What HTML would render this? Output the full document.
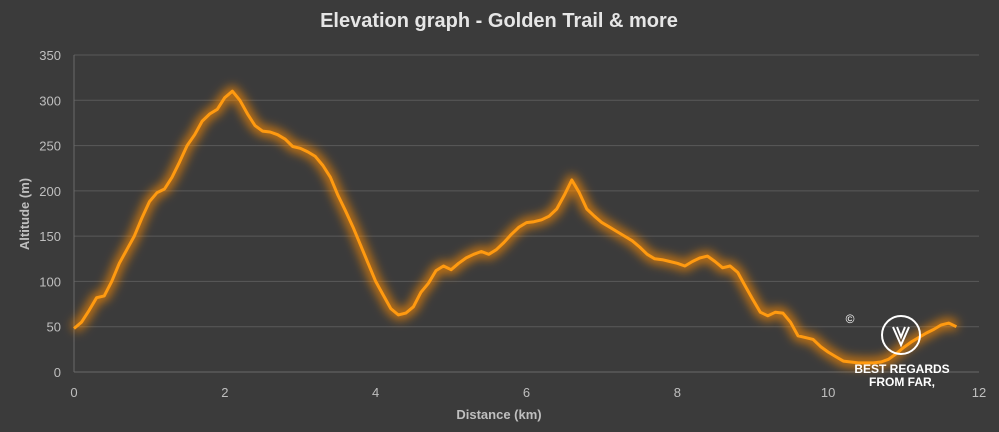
<!DOCTYPE html>
<html><head><meta charset="utf-8"><style>
html,body{margin:0;padding:0;background:#3b3b3b;}
svg{display:block;font-family:"Liberation Sans",sans-serif;}
</style></head><body>
<svg id="chart" width="999" height="432">
<defs>
<filter id="glow" x="-10%" y="-20%" width="120%" height="140%">
<feGaussianBlur stdDeviation="5" result="b"/>
</filter>
</defs>
<rect width="999" height="432" fill="#3b3b3b"/>
<text x="499" y="27" text-anchor="middle" font-size="20" font-weight="bold" fill="#e6e6e6">Elevation graph - Golden Trail &amp; more</text>
<g id="grid"></g>
<g id="yticks"></g>
<g id="xticks"></g>
<text x="499" y="419" text-anchor="middle" font-size="13" font-weight="bold" fill="#bfbfbf">Distance (km)</text>
<text transform="translate(29,214) rotate(-90)" text-anchor="middle" font-size="13" font-weight="bold" fill="#bfbfbf">Altitude (m)</text>
<path id="glowline" fill="none" stroke="#ff8c00" stroke-opacity="0.75" stroke-width="10" stroke-linejoin="round" filter="url(#glow)"/>
<path id="line" fill="none" stroke="#ff9a10" stroke-width="3" stroke-linejoin="round"/>
<g>
<text x="850" y="323" text-anchor="middle" font-size="12" fill="#fff">©</text>
<circle cx="901" cy="335" r="19" fill="none" stroke="#fff" stroke-width="2"/>
<path d="M893 327 L901 345 L909 327 M897 327 L901 337 L905 327" fill="none" stroke="#fff" stroke-width="2"/>
<text x="902" y="373" text-anchor="middle" font-size="12" font-weight="bold" fill="#fff">BEST REGARDS</text>
<text x="902" y="386" text-anchor="middle" font-size="12" font-weight="bold" fill="#fff">FROM FAR,</text>
</g>
</svg>
<script>
const distances=[0,0.1,0.2,0.3,0.4,0.5,0.6,0.7,0.8,0.9,1.0,1.1,1.2,1.3,1.4,1.5,1.6,1.7,1.8,1.9,2.0,2.1,2.2,2.3,2.4,2.5,2.6,2.7,2.8,2.9,3.0,3.1,3.2,3.3,3.4,3.5,3.6,3.7,3.8,3.9,4.0,4.1,4.2,4.3,4.4,4.5,4.6,4.7,4.8,4.9,5.0,5.1,5.2,5.3,5.4,5.5,5.6,5.7,5.8,5.9,6.0,6.1,6.2,6.3,6.4,6.5,6.6,6.7,6.8,6.9,7.0,7.1,7.2,7.3,7.4,7.5,7.6,7.7,7.8,7.9,8.0,8.1,8.2,8.3,8.4,8.5,8.6,8.7,8.8,8.9,9.0,9.1,9.2,9.3,9.4,9.5,9.6,9.7,9.8,9.9,10.0,10.1,10.2,10.3,10.4,10.5,10.6,10.7,10.8,10.9,11.0,11.1,11.2,11.3,11.4,11.5,11.6,11.7];
const altitudes=[48,55,68,82,84,100,120,135,150,170,188,198,202,215,232,250,262,277,285,290,303,310,300,285,272,266,265,262,257,249,247,243,238,228,215,195,178,160,140,120,100,85,70,63,65,72,88,98,112,117,113,120,126,130,133,130,135,143,152,160,165,166,168,172,180,195,212,198,180,172,165,160,155,150,145,138,130,125,124,122,120,117,122,126,128,122,115,117,110,95,80,66,62,66,65,55,40,38,36,28,22,17,12,11,10,10,10,11,14,20,27,33,38,43,47,52,54,50];
const yTickLabels=[0,50,100,150,200,250,300,350];
const xTickLabels=[0,2,4,6,8,10,12];
const X0=74,X1=979,Y0=372,Y1=55;
const xs=v=>X0+(v/12)*(X1-X0);
const ys=v=>Y0-(v/350)*(Y0-Y1);
const NS="http://www.w3.org/2000/svg";
const grid=document.getElementById('grid'),yt=document.getElementById('yticks'),xt=document.getElementById('xticks');
yTickLabels.forEach(v=>{
 const l=document.createElementNS(NS,'line');
 l.setAttribute('x1',X0);l.setAttribute('x2',X1);l.setAttribute('y1',ys(v));l.setAttribute('y2',ys(v));
 l.setAttribute('stroke',v===0?'#6a6a6a':'#5a5a5a');l.setAttribute('stroke-width','1');
 
 
 grid.appendChild(l);
 const t=document.createElementNS(NS,'text');
 t.setAttribute('x',61);t.setAttribute('y',ys(v)+5);t.setAttribute('text-anchor','end');
 t.setAttribute('font-size','13');t.setAttribute('fill','#bfbfbf');t.textContent=v;
 
 
 yt.appendChild(t);
});
const ax=document.createElementNS(NS,'line');
ax.setAttribute('x1',X0);ax.setAttribute('x2',X0);ax.setAttribute('y1',Y1);ax.setAttribute('y2',Y0);
ax.setAttribute('stroke','#6a6a6a');


grid.appendChild(ax);
xTickLabels.forEach(v=>{
 const t=document.createElementNS(NS,'text');
 t.setAttribute('x',xs(v));t.setAttribute('y',397);t.setAttribute('text-anchor','middle');
 t.setAttribute('font-size','13');t.setAttribute('fill','#bfbfbf');t.textContent=v;
 
 
 xt.appendChild(t);
});
const d=distances.map((v,i)=>(i?'L':'M')+xs(v).toFixed(1)+' '+ys(altitudes[i]).toFixed(1)).join(' ');
document.getElementById('line').setAttribute('d',d);
document.getElementById('glowline').setAttribute('d',d);
</script>
</body></html>
